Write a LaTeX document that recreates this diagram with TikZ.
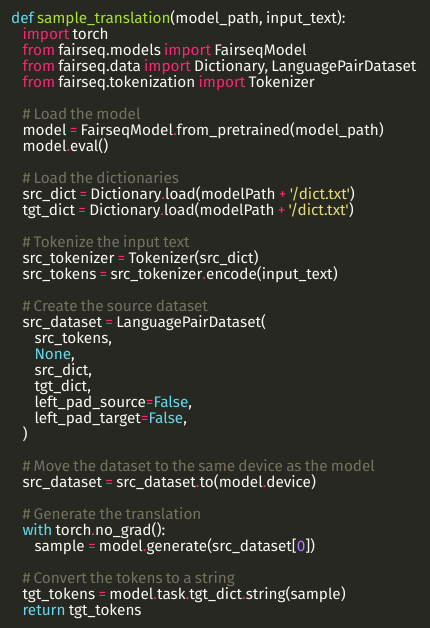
\documentclass[tikz,border=0pt]{standalone}
\usepackage{fontspec}
\setmainfont{Fira Sans}[Ligatures=TeXOff,WordSpace={0.8}]
\definecolor{bg}{HTML}{272822}
\definecolor{fg}{HTML}{F8F8F2}
\definecolor{kw}{HTML}{F92672}
\definecolor{cy}{HTML}{66D9EF}
\definecolor{fn}{HTML}{A6E22E}
\definecolor{st}{HTML}{E6DB74}
\definecolor{cm}{HTML}{75715E}
\definecolor{nm}{HTML}{AE81FF}
\newcommand\Kw[1]{\textcolor{kw}{#1}}
\newcommand\Cy[1]{\textcolor{cy}{#1}}
\newcommand\Fn[1]{\textcolor{fn}{#1}}
\newcommand\St[1]{\textcolor{st}{#1}}
\newcommand\Cm[1]{\textcolor{cm}{#1}}
\newcommand\Nm[1]{\textcolor{nm}{#1}}
\newcommand\Pd{\Kw{.}}
\newcommand\Eq{\Kw{=}}
\begin{document}
\begin{tikzpicture}[x=1pt,y=1pt,
  code/.style={anchor=base west,inner sep=0pt,text=fg,font=\fontsize{15.3}{16}\selectfont}]
\fill[bg] (0,0) rectangle (430,628);
\useasboundingbox (0,0) rectangle (430,628);
\def\xa{11}\def\xb{22.3}\def\xc{34.3}
\newcommand\Y[1]{628-23.3-16*(#1-1)}
\node[code] (l1) at (\xa,{\Y{1}}) {\Cy{def} \Fn{sample\_translation}(model\_path, input\_text):};
\node[code] (l2) at (\xb,{\Y{2}}) {\Kw{import} torch};
\node[code] (l3) at (\xb,{\Y{3}}) {\Kw{from} fairseq.models \Kw{import} FairseqModel};
\node[code] (l4) at (\xb,{\Y{4}}) {\Kw{from} fairseq.data \Kw{import} Dictionary, LanguagePairDataset};
\node[code] (l5) at (\xb,{\Y{5}}) {\Kw{from} fairseq.tokenization \Kw{import} Tokenizer};
\node[code] (l7) at (\xb,{\Y{7}}) {\Cm{\# Load the model}};
\node[code] (l8) at (\xb,{\Y{8}}) {model \Eq{} FairseqModel\Pd{}from\_pretrained(model\_path)};
\node[code] (l9) at (\xb,{\Y{9}}) {model\Pd{}eval()};
\node[code] (l11) at (\xb,{\Y{11}}) {\Cm{\# Load the dictionaries}};
\node[code] (l12) at (\xb,{\Y{12}}) {src\_dict \Eq{} Dictionary\Pd{}load(modelPath \Kw{+} \St{'/dict.txt'})};
\node[code] (l13) at (\xb,{\Y{13}}) {tgt\_dict \Eq{} Dictionary\Pd{}load(modelPath \Kw{+} \St{'/dict.txt'})};
\node[code] (l15) at (\xb,{\Y{15}}) {\Cm{\# Tokenize the input text}};
\node[code] (l16) at (\xb,{\Y{16}}) {src\_tokenizer \Eq{} Tokenizer(src\_dict)};
\node[code] (l17) at (\xb,{\Y{17}}) {src\_tokens \Eq{} src\_tokenizer\Pd{}encode(input\_text)};
\node[code] (l19) at (\xb,{\Y{19}}) {\Cm{\# Create the source dataset}};
\node[code] (l20) at (\xb,{\Y{20}}) {src\_dataset \Eq{} LanguagePairDataset(};
\node[code] (l21) at (\xc,{\Y{21}}) {src\_tokens,};
\node[code] (l22) at (\xc,{\Y{22}}) {\Cy{None},};
\node[code] (l23) at (\xc,{\Y{23}}) {src\_dict,};
\node[code] (l24) at (\xc,{\Y{24}}) {tgt\_dict,};
\node[code] (l25) at (\xc,{\Y{25}}) {left\_pad\_source\Eq{}\Cy{False},};
\node[code] (l26) at (\xc,{\Y{26}}) {left\_pad\_target\Eq{}\Cy{False},};
\node[code] (l27) at (\xb,{\Y{27}}) {)};
\node[code] (l29) at (\xb,{\Y{29}}) {\Cm{\# Move the dataset to the same device as the model}};
\node[code] (l30) at (\xb,{\Y{30}}) {src\_dataset \Eq{} src\_dataset\Pd{}to(model\Pd{}device)};
\node[code] (l32) at (\xb,{\Y{32}}) {\Cm{\# Generate the translation}};
\node[code] (l33) at (\xb,{\Y{33}}) {\Cy{with} torch\Pd{}no\_grad():};
\node[code] (l34) at (\xc,{\Y{34}}) {sample \Eq{} model\Pd{}generate(src\_dataset[\Nm{0}])};
\node[code] (l36) at (\xb,{\Y{36}}) {\Cm{\# Convert the tokens to a string}};
\node[code] (l37) at (\xb,{\Y{37}}) {tgt\_tokens \Eq{} model\Pd{}task\Pd{}tgt\_dict\Pd{}string(sample)};
\node[code] (l38) at (\xb,{\Y{38}}) {\Cy{return} tgt\_tokens};
\end{tikzpicture}
\end{document}
